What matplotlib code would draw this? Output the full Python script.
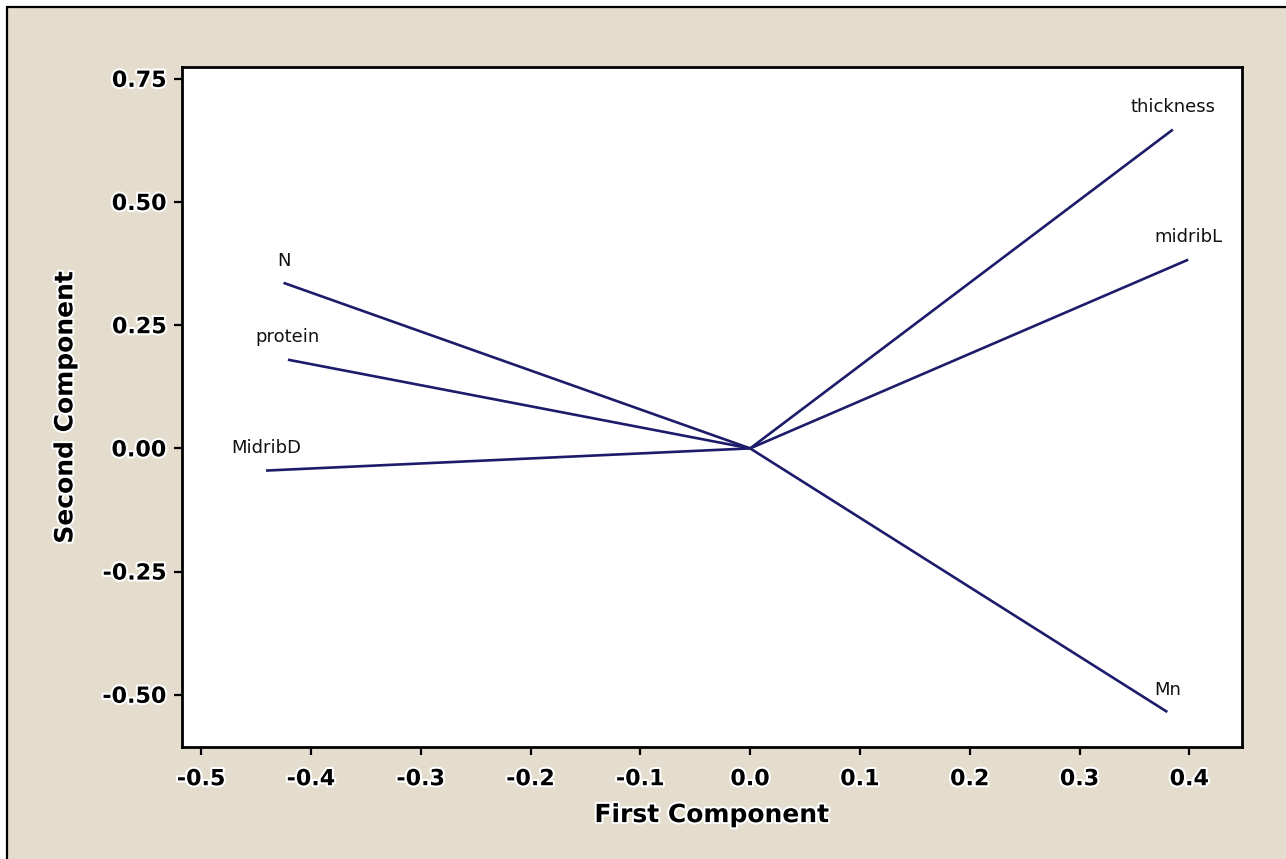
import numpy as np
import matplotlib
matplotlib.use('Agg')
import matplotlib.pyplot as plt
import matplotlib.patheffects as pe
from matplotlib.patches import Rectangle

# loadings
variables = ['thickness', 'midribL', 'Mn', 'N', 'protein', 'MidribD']
pc1 = [0.385, 0.399, 0.380, -0.425, -0.421, -0.441]
pc2 = [0.647, 0.383, -0.535, 0.336, 0.180, -0.045]

xticks = [-0.5, -0.4, -0.3, -0.2, -0.1, 0.0, 0.1, 0.2, 0.3, 0.4]
yticks = [-0.50, -0.25, 0.00, 0.25, 0.50, 0.75]

bg = '#e4dccc'
navy = '#1c1c6b'
halo = [pe.withStroke(linewidth=3, foreground='white')]

fig = plt.figure(figsize=(12.86, 8.59), dpi=100, facecolor='white')
W, H = 1286, 859
fig.patches.append(Rectangle((7/W, -0.1), 1.2, (H-7)/H + 0.1, transform=fig.transFigure,
                             facecolor=bg, edgecolor='black', lw=1.6, zorder=-1))

ax = fig.add_axes([182/W, 1-747/H, (1242-182)/W, (747-67)/H])
ax.set_facecolor('white')

for x, y, name in zip(pc1, pc2, variables):
    ax.plot([0, x], [0, y], color=navy, lw=1.9, solid_capstyle='butt')
    ax.annotate(name, xy=(x, y), xytext=(0, 16), textcoords='offset points',
                ha='center', va='center', fontsize=13, color='#111111')

ax.set_xlim(-0.5175, 0.448)
ax.set_ylim(-0.606, 0.774)
ax.set_xticks(xticks)
ax.set_xticklabels(['%.1f' % v for v in xticks])
ax.set_yticks(yticks)
ax.set_yticklabels(['%.2f' % v for v in yticks])

for s in ax.spines.values():
    s.set_linewidth(2)
ax.tick_params(direction='out', length=6, width=1.6, labelsize=16)
ax.tick_params(axis='x', pad=10)
ax.tick_params(axis='y', pad=5)
for label in ax.get_xticklabels() + ax.get_yticklabels():
    label.set_fontweight('bold')
    label.set_path_effects(halo)

ax.set_xlabel('First Component', fontsize=18, fontweight='bold', labelpad=10,
              path_effects=halo)
ax.set_ylabel('Second Component', fontsize=18, fontweight='bold', labelpad=18,
              path_effects=halo)

fig.savefig('out.png', dpi=100, facecolor=fig.get_facecolor())
